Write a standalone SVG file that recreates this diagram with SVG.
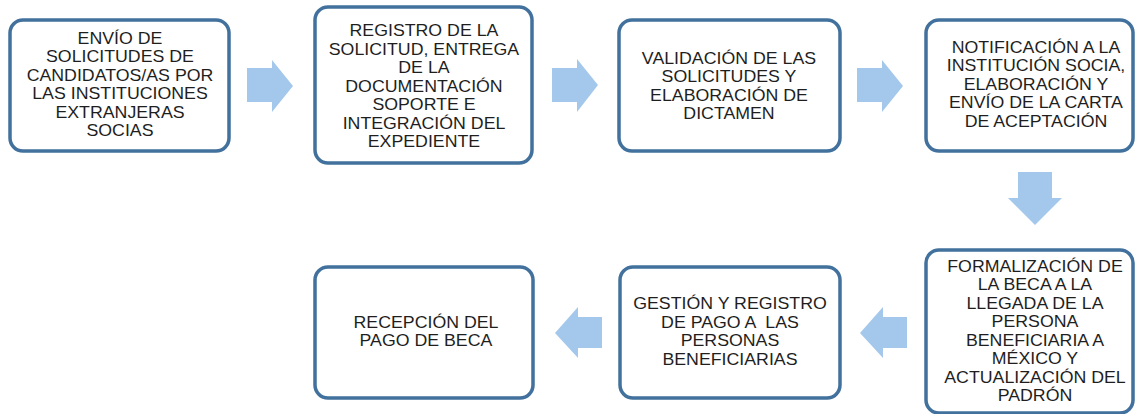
<svg xmlns="http://www.w3.org/2000/svg" width="1136" height="414" viewBox="0 0 1136 414">
<style>
.box{fill:#ffffff;stroke:#41719c;stroke-width:3.5}
.arrow{fill:#a4c8ec;stroke:none}
text{font-family:"Liberation Sans",Arial,sans-serif;font-size:16px;fill:#1e1e1e;text-anchor:middle;transform-box:fill-box;transform-origin:center;transform:scaleX(1.11)}
</style>
<rect width="1136" height="414" fill="#ffffff"/>
<g id="connectors">
<polygon class="arrow" points="247,68 272,68 272,60 293,86 272,112 272,102 247,102"/>
<polygon class="arrow" points="552,68 577,68 577,59 598,85 577,112 577,102 552,102"/>
<polygon class="arrow" points="857,68 882,68 882,60 903,86 882,112 882,102 857,102"/>
<polygon class="arrow" points="1018,172 1052,172 1052,198 1062,198 1035,225 1008,198 1018,198"/>
<polygon class="arrow" points="907,317 883,317 883,307 860,333 883,358 883,348 907,348"/>
<polygon class="arrow" points="602,317 578,317 578,307 555,333 578,358 578,348 602,348"/>
</g>
<g id="n1">
<rect class="box" x="10" y="20" width="219" height="131" rx="13"/>
<text x="120" y="44">ENVÍO DE</text>
<text x="120" y="62.5">SOLICITUDES DE</text>
<text x="120" y="81">CANDIDATOS/AS POR</text>
<text x="120" y="99.5">LAS INSTITUCIONES</text>
<text x="120" y="118">EXTRANJERAS</text>
<text x="120" y="136.5">SOCIAS</text>
</g>
<g id="n2">
<rect class="box" x="315" y="7" width="217" height="156" rx="13"/>
<text x="424" y="36.5">REGISTRO DE LA</text>
<text x="424" y="55">SOLICITUD, ENTREGA</text>
<text x="424" y="73.5">DE LA</text>
<text x="424" y="92">DOCUMENTACIÓN</text>
<text x="424" y="110.5">SOPORTE E</text>
<text x="424" y="129">INTEGRACIÓN DEL</text>
<text x="424" y="147.5">EXPEDIENTE</text>
</g>
<g id="n3">
<rect class="box" x="619" y="20" width="221" height="131" rx="13"/>
<text x="729" y="64">VALIDACIÓN DE LAS</text>
<text x="729" y="82.5">SOLICITUDES Y</text>
<text x="729" y="101">ELABORACIÓN DE</text>
<text x="729" y="119.5">DICTAMEN</text>
</g>
<g id="n4">
<rect class="box" x="926" y="20" width="207" height="131" rx="13"/>
<text x="1036" y="53">NOTIFICACIÓN A LA</text>
<text x="1036" y="71.5">INSTITUCIÓN SOCIA,</text>
<text x="1036" y="90">ELABORACIÓN Y</text>
<text x="1036" y="108.5">ENVÍO DE LA CARTA</text>
<text x="1036" y="127">DE ACEPTACIÓN</text>
</g>
<g id="n5">
<rect class="box" x="926" y="250" width="207" height="163" rx="13"/>
<text x="1035" y="272">FORMALIZACIÓN DE</text>
<text x="1035" y="290.5">LA BECA A LA</text>
<text x="1035" y="309">LLEGADA DE LA</text>
<text x="1035" y="327.5">PERSONA</text>
<text x="1035" y="346">BENEFICIARIA A</text>
<text x="1035" y="364.5">MÉXICO Y</text>
<text x="1035" y="383">ACTUALIZACIÓN DEL</text>
<text x="1035" y="401.5">PADRÓN</text>
</g>
<g id="n6">
<rect class="box" x="620" y="267" width="220" height="131" rx="13"/>
<text x="730" y="309.5">GESTIÓN Y REGISTRO</text>
<text x="730" y="328" xml:space="preserve">DE PAGO A  LAS</text>
<text x="730" y="346.5">PERSONAS</text>
<text x="730" y="365">BENEFICIARIAS</text>
</g>
<g id="n7">
<rect class="box" x="315" y="267" width="218" height="131" rx="13"/>
<text x="426" y="328">RECEPCIÓN DEL</text>
<text x="426" y="346.5">PAGO DE BECA</text>
</g>
</svg>
